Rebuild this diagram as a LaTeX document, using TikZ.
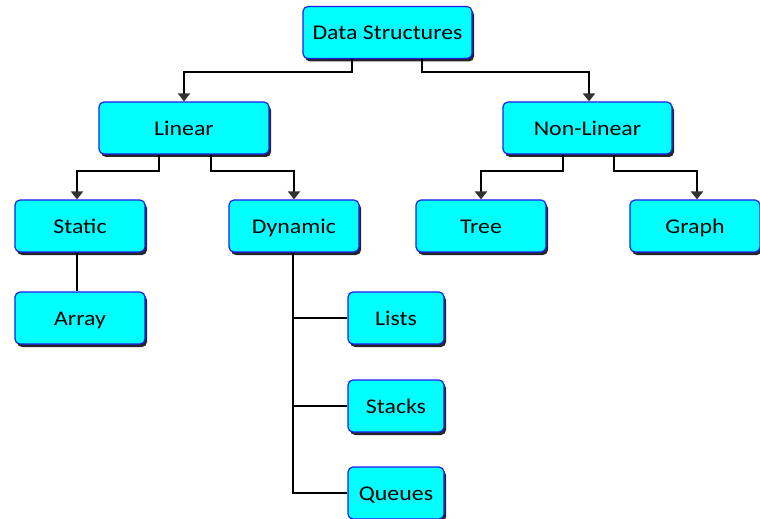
\documentclass[tikz,border=0pt]{standalone}
\usepackage{fontspec}
\setmainfont{Carlito}[FakeStretch=1.14]
\usetikzlibrary{arrows.meta,shadows}
\definecolor{boxfill}{RGB}{0,255,255}
\definecolor{boxline}{RGB}{30,30,235}
\definecolor{tipgray}{RGB}{50,50,50}
\tikzset{
  box/.style={draw=boxline, line width=1.2bp, fill=boxfill, rounded corners=5bp,
    minimum height=52bp, inner sep=0pt, text height=17bp, text depth=2bp,
    font=\fontsize{21}{25}\selectfont,
    drop shadow={shadow xshift=2bp, shadow yshift=-3bp, fill=black, opacity=0.85}},
  link/.style={line width=2bp, black},
  tip/.style={link, -{Triangle[length=8bp,width=12bp,fill=tipgray,color=tipgray]}}
}
\begin{document}
\begin{tikzpicture}[x=1bp,y=-1bp]
\useasboundingbox (0,0) rectangle (760,519);
% boxes
\node[box, minimum width=169bp] (ds) at (387.5,32.5) {Data Structures};
\node[box, minimum width=170bp] (lin) at (184,128) {Linear};
\node[box, minimum width=169bp] (nlin) at (587.5,128) {Non-Linear};
\node[box, minimum width=130bp] (stat) at (80,226) {Static};
\node[box, minimum width=130bp] (dyn) at (294,226) {Dynamic};
\node[box, minimum width=130bp] (tree) at (481,226) {Tree};
\node[box, minimum width=130bp] (graph) at (695,226) {Graph};
\node[box, minimum width=130bp] (arr) at (80,318) {Array};
\node[box, minimum width=96bp] (lists) at (396,318) {Lists};
\node[box, minimum width=96bp] (stacks) at (396,406) {Stacks};
\node[box, minimum width=96bp] (queues) at (396,493) {Queues};
% elbow connectors with arrowheads
\draw[tip] (ds.south -| 352,0) |- (184,72) -- (lin.north);
\draw[tip] (ds.south -| 422,0) |- (589,72) -- (nlin.north -| 589,0);
\draw[tip] (lin.south -| 159,0) |- (77,171) -- (stat.north -| 77,0);
\draw[tip] (lin.south -| 211,0) |- (294,171) -- (dyn.north);
\draw[tip] (nlin.south -| 563,0) |- (481,171) -- (tree.north);
\draw[tip] (nlin.south -| 614,0) |- (697,171) -- (graph.north -| 697,0);
% plain links
\draw[link] (stat.south -| 77,0) -- (arr.north -| 77,0);
\draw[link] (dyn.south -| 293,0) -- (293,493) -- (queues.west);
\draw[link] (293,318) -- (lists.west);
\draw[link] (293,406) -- (stacks.west);
\end{tikzpicture}
\end{document}
